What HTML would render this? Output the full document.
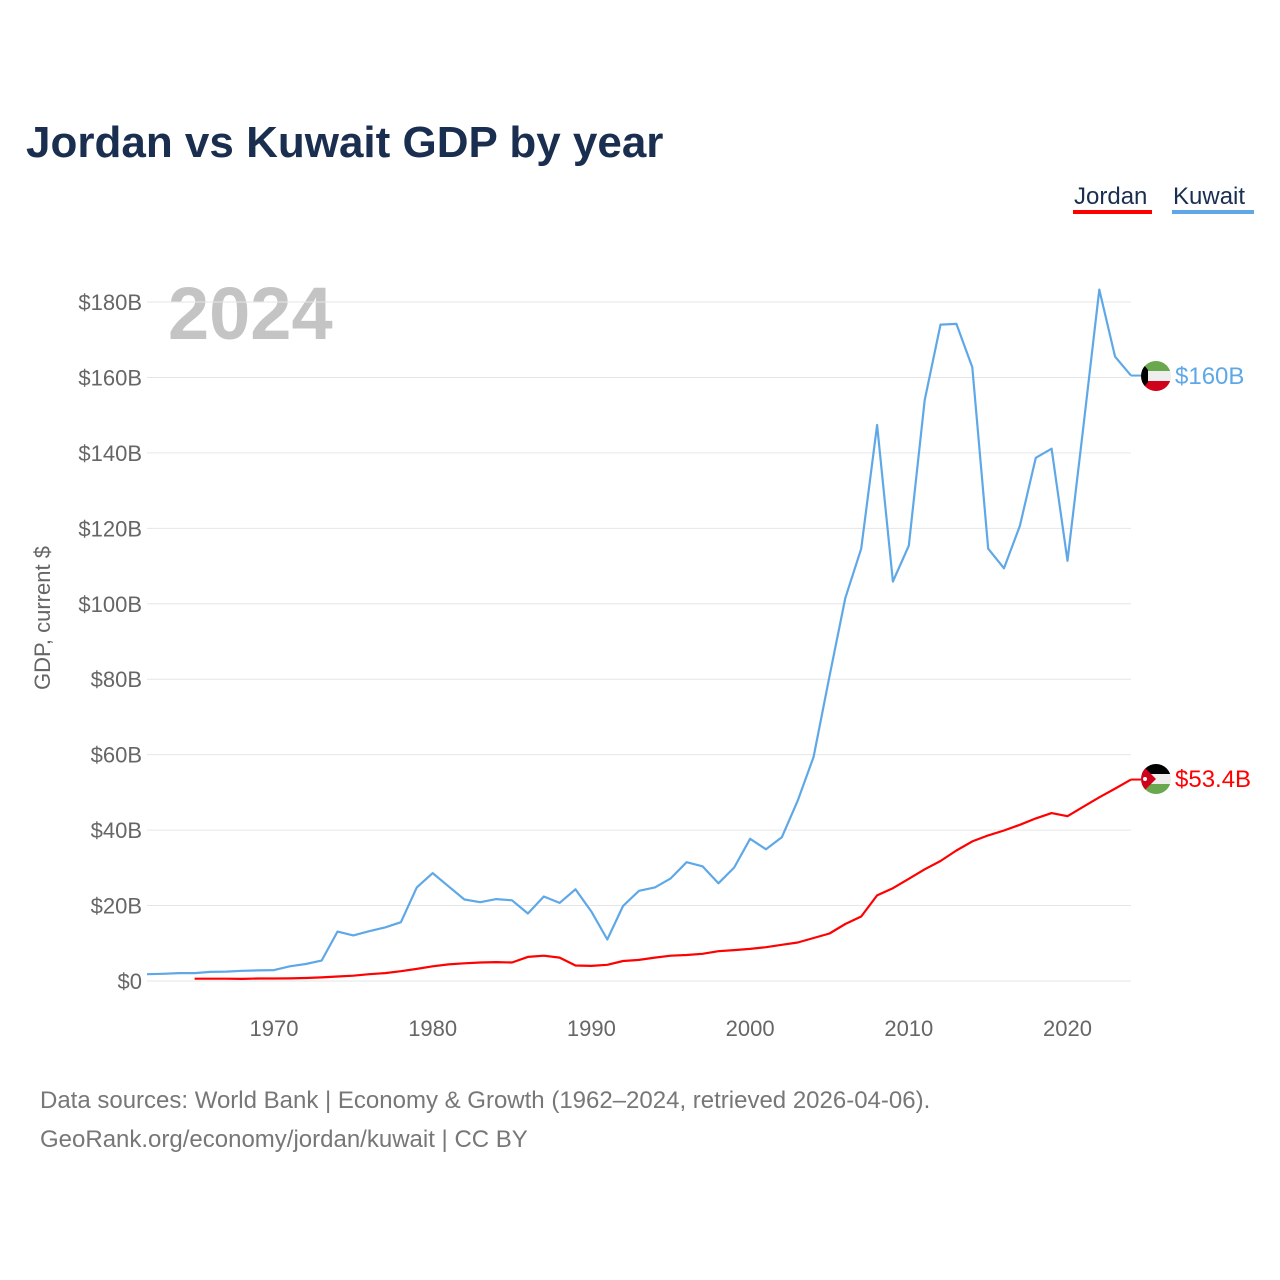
<!DOCTYPE html>
<html><head><meta charset="utf-8"><style>
body{margin:0;background:#fff;}
svg{display:block;font-family:"Liberation Sans",sans-serif;}
</style></head><body>
<svg id="c" width="1280" height="1280" viewBox="0 0 1280 1280">
<rect width="1280" height="1280" fill="#fff"/>
<text x="26" y="157" font-size="44" font-weight="bold" fill="#1a2e4f">Jordan vs Kuwait GDP by year</text>
<g><text x="1074" y="204" font-size="24" fill="#1a2e4f">Jordan</text><rect x="1073" y="210" width="79" height="4" fill="#ff0000"/></g>
<g><text x="1173" y="204" font-size="24" fill="#1a2e4f">Kuwait</text><rect x="1172" y="210" width="82" height="4" fill="#5fa8e8"/></g>
<text x="168" y="339" font-size="74" font-weight="bold" fill="#c4c4c4">2024</text>
<text transform="translate(50,618) rotate(-90)" text-anchor="middle" font-size="22" fill="#666">GDP, current $</text>
<g id="grid"></g><g id="ylab"></g><g id="xlab"></g><g id="lines"></g>
<g>
<clipPath id="ck"><circle cx="1156" cy="376" r="15"/></clipPath>
<g clip-path="url(#ck)"><rect x="1140" y="360" width="32" height="11" fill="#6aa84f"/><rect x="1140" y="371" width="32" height="10" fill="#eee"/><rect x="1140" y="381" width="32" height="12" fill="#d0021b"/><polygon points="1140,360 1148,370 1148,382 1140,392" fill="#000"/></g></g>
<text x="1175" y="384" font-size="24" fill="#5fa8e8">$160B</text>
<g>
<clipPath id="cj"><circle cx="1156" cy="779" r="15"/></clipPath>
<g clip-path="url(#cj)"><rect x="1140" y="763" width="32" height="11" fill="#000"/><rect x="1140" y="774" width="32" height="10" fill="#eee"/><rect x="1140" y="784" width="32" height="12" fill="#6aa84f"/><polygon points="1140,763 1156,779 1140,795" fill="#d0021b"/><circle cx="1145" cy="779" r="2" fill="#fff"/></g></g>
<text x="1175" y="787" font-size="24" fill="#ff0000">$53.4B</text>
<text x="40" y="1108" font-size="24" fill="#777">Data sources: World Bank | Economy &amp; Growth (1962–2024, retrieved 2026-04-06).</text>
<text x="40" y="1147" font-size="24" fill="#777">GeoRank.org/economy/jordan/kuwait | CC BY</text>
</svg>
<script>
const kuwaitStart=1962;
const kuwait=[1.8,1.9,2.1,2.1,2.4,2.5,2.7,2.8,2.9,3.9,4.5,5.4,13.1,12.1,13.2,14.2,15.6,24.8,28.6,25.1,21.6,20.9,21.7,21.4,17.9,22.4,20.7,24.3,18.4,11.0,19.9,23.9,24.8,27.2,31.5,30.4,25.9,30.1,37.7,34.9,38.1,47.8,59.4,80.8,101.5,114.6,147.4,105.9,115.4,154.0,174.0,174.2,162.7,114.6,109.4,120.7,138.7,141.1,111.4,147.0,183.3,165.5,160.5];
const jordanStart=1965;
const jordan=[0.6,0.6,0.6,0.55,0.65,0.65,0.7,0.8,0.95,1.2,1.4,1.8,2.1,2.6,3.2,3.9,4.4,4.7,4.9,5.0,4.9,6.4,6.7,6.2,4.1,4.0,4.3,5.3,5.6,6.2,6.7,6.9,7.2,7.9,8.2,8.5,8.97,9.6,10.2,11.4,12.6,15.1,17.1,22.7,24.6,27.1,29.6,31.8,34.6,37.0,38.6,39.9,41.4,43.1,44.5,43.7,46.2,48.7,51.0,53.4];
const yTicks=[0,20,40,60,80,100,120,140,160,180];
const yTickLabels=["$0","$20B","$40B","$60B","$80B","$100B","$120B","$140B","$160B","$180B"];
const xTicks=[1970,1980,1990,2000,2010,2020];
const NS="http://www.w3.org/2000/svg";
const x=yr=>147+(yr-1962)*(1131-147)/62;
const y=v=>981-v*(981-302)/180;
function mk(t,a,p){const e=document.createElementNS(NS,t);for(const k in a)e.setAttribute(k,a[k]);p.appendChild(e);return e;}
const grid=document.getElementById('grid'),yl=document.getElementById('ylab'),xl=document.getElementById('xlab'),ln=document.getElementById('lines');
yTicks.forEach((v,i)=>{
 const g=mk('line',{x1:147,x2:1131,y1:y(v),y2:y(v),stroke:'#e6e6e6','stroke-width':1},grid);
 
 
 const t=mk('text',{x:142,y:y(v)+8,'text-anchor':'end','font-size':22,fill:'#666'},yl);
 t.textContent=yTickLabels[i];
 
 
});
xTicks.forEach(yr=>{
 const t=mk('text',{x:x(yr),y:1036,'text-anchor':'middle','font-size':22,fill:'#666'},xl);
 t.textContent=yr;
 
 
});
function line(data,start,color,name){
 const pts=data.map((v,i)=>x(start+i).toFixed(1)+','+y(v).toFixed(1)).join(' ');
 const p=mk('polyline',{points:pts,fill:'none',stroke:color,'stroke-width':2.2,'stroke-linejoin':'round'},ln);
 
 
 const last=data[data.length-1],lx=x(start+data.length-1);
 const s=mk('line',{x1:lx,x2:lx+10,y1:y(last),y2:y(last),stroke:color,'stroke-width':2},ln);
 
 
}
line(kuwait,kuwaitStart,'#5fa8e8','kuwait-line');
line(jordan,jordanStart,'#ff0000','jordan-line');
</script>
</body></html>
